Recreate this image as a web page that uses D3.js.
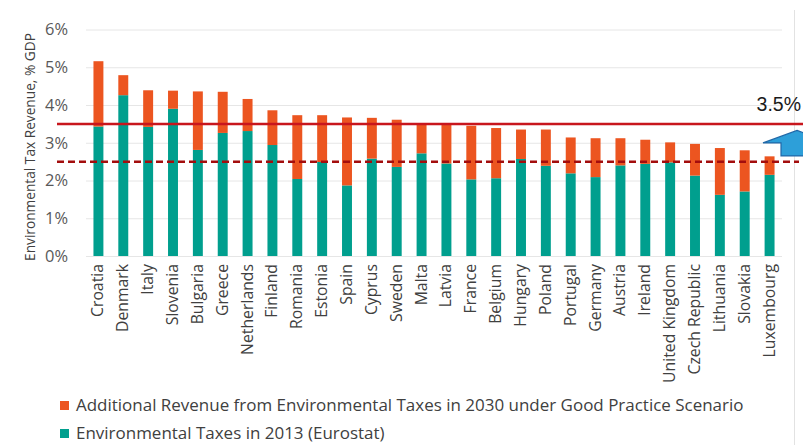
<!DOCTYPE html>
<html>
<head>
<meta charset="utf-8">
<script src="https://cdn.jsdelivr.net/npm/d3@7"></script>
<style>
  body { margin: 0; background: #fff; }
  svg { display: block; font-family: "Open Sans", sans-serif; }
</style>
</head>
<body>
<div id="chart"></div>
<script>
var width = 803,
    height = 445;

var countries = ["Croatia", "Denmark", "Italy", "Slovenia", "Bulgaria", "Greece", "Netherlands",
    "Finland", "Romania", "Estonia", "Spain", "Cyprus", "Sweden", "Malta", "Latvia", "France",
    "Belgium", "Hungary", "Poland", "Portugal", "Germany", "Austria", "Ireland", "United Kingdom",
    "Czech Republic", "Lithuania", "Slovakia", "Luxembourg"];

// Environmental taxes in 2013 (Eurostat), % GDP
var taxes2013 = [3.43, 4.26, 3.42, 3.90, 2.81, 3.26, 3.31, 2.94, 2.04, 2.49, 1.87, 2.58, 2.36, 2.72,
    2.45, 2.03, 2.06, 2.57, 2.39, 2.19, 2.09, 2.40, 2.44, 2.48, 2.13, 1.62, 1.71, 2.15];

// additional revenue in 2030, good practice scenario
var additional2030 = [1.73, 0.53, 0.97, 0.48, 1.55, 1.09, 0.85, 0.92, 1.69, 1.24, 1.80, 1.08, 1.25, 0.80,
    1.02, 1.42, 1.33, 0.78, 0.96, 0.95, 1.03, 0.72, 0.64, 0.53, 0.84, 1.24, 1.09, 0.49];

var yTicks = [0, 1, 2, 3, 4, 5, 6];
var refLines = [3.5, 2.5];
var legendLabels = ["Additional Revenue from Environmental Taxes in 2030 under Good Practice Scenario",
    "Environmental Taxes in 2013 (Eurostat)"];

var colTeal = "#009f8e",
    colOrange = "#ec5520";

var svg = d3.select("#chart").append("svg")
    .attr("width", width)
    .attr("height", height);

// scale font so that one text node gets a given length
function fitFont(sel, node, target, size) {
    sel.style("font-size", size + "px");
    var len = node.getComputedTextLength();
    sel.style("font-size", (size * target / len).toFixed(2) + "px");
}

var x = d3.scaleBand().domain(countries).range([86, 782]).paddingInner(0.6).paddingOuter(0.3);
var y = d3.scaleLinear().domain([0, 6]).range([256, 29.5]);

// frame line on the right
svg.append("line")
    .attr("x1", 794.5).attr("x2", 794.5).attr("y1", 10).attr("y2", height)
    .attr("stroke", "#e2e2e2");

// gridlines + tick labels
var yAxis = svg.append("g")
    .attr("transform", "translate(86,0)")
    .call(d3.axisLeft(y).tickValues(yTicks).tickFormat(function(d) { return d + "%"; })
        .tickSize(-696).tickPadding(18));
yAxis.select(".domain").remove();
yAxis.selectAll(".tick line").attr("stroke", "#e6e6e6");
var tickText = yAxis.selectAll(".tick text")
    .attr("fill", "#595959")
    .style("font-family", "'Open Sans', sans-serif");
fitFont(tickText, tickText.nodes()[6], 23, 15);

var yTitle = svg.append("text")
    .attr("transform", "translate(35,147) rotate(-90)")
    .attr("text-anchor", "middle")
    .attr("fill", "#404040")
    .text("Environmental Tax Revenue, % GDP");
fitFont(yTitle, yTitle.node(), 228, 15);

// stacked bars
var rows = countries.map(function(c, i) {
    return { country: c, base: taxes2013[i], extra: additional2030[i] };
});
var stack = d3.stack().keys(["base", "extra"])(rows);
var colors = { base: colTeal, extra: colOrange };

svg.append("g").selectAll("g")
    .data(stack)
    .join("g")
    .attr("fill", function(d) { return colors[d.key]; })
    .selectAll("rect")
    .data(function(d) { return d; })
    .join("rect")
    .attr("x", function(d) { return x(d.data.country); })
    .attr("width", x.bandwidth())
    .attr("y", function(d) { return y(d[1]); })
    .attr("height", function(d) { return y(d[0]) - y(d[1]); });

// country labels
var xLabels = svg.append("g").selectAll("text")
    .data(countries)
    .join("text")
    .attr("transform", function(d) { return "translate(" + (x(d) + x.bandwidth() / 2 + 5) + ",264) rotate(-90)"; })
    .attr("text-anchor", "end")
    .attr("fill", "#404040")
    .text(function(d) { return d; });
fitFont(xLabels, xLabels.nodes()[23], 119, 15);

// reference lines
svg.append("line")
    .attr("x1", 57).attr("x2", 803)
    .attr("y1", y(refLines[0])).attr("y2", y(refLines[0]))
    .attr("stroke", "#c8161d").attr("stroke-width", 2.5);
svg.append("line")
    .attr("x1", 57).attr("x2", 799)
    .attr("y1", y(refLines[1])).attr("y2", y(refLines[1]))
    .attr("stroke", "#a30d0d").attr("stroke-width", 2.5)
    .attr("stroke-dasharray", "7,4");

svg.append("text")
    .attr("x", 801).attr("y", y(refLines[0]) - 13)
    .attr("text-anchor", "end")
    .attr("fill", "#1a1a1a")
    .style("font-family", "'Liberation Sans', Arial, sans-serif")
    .style("font-size", "19.5px")
    .text(refLines[0] + "%");

// blue block arrow, cut off by the right edge
var ay = y(refLines[0]);
svg.append("path")
    .attr("d", "M797," + (ay + 6.5) + " L830," + (ay + 19) + " L813," + (ay + 19) +
        " L813," + (ay + 32) + " L781," + (ay + 32) + " L781," + (ay + 19) + " L763," + (ay + 19) + " Z")
    .attr("fill", "#2d9fd9")
    .attr("stroke", "#2068a8")
    .attr("stroke-width", 1.2);

// legend
var legend = svg.append("g").selectAll("g")
    .data(legendLabels)
    .join("g")
    .attr("transform", function(d, i) { return "translate(60," + (401 + i * 28) + ")"; });
legend.append("rect")
    .attr("width", 9).attr("height", 9)
    .attr("fill", function(d, i) { return i === 0 ? colOrange : colTeal; });
var legText = legend.append("text")
    .attr("x", 16).attr("y", 10)
    .attr("fill", "#404040")
    .text(function(d) { return d; });
fitFont(legText, legText.nodes()[0], 668, 16);
</script>
</body>
</html>
